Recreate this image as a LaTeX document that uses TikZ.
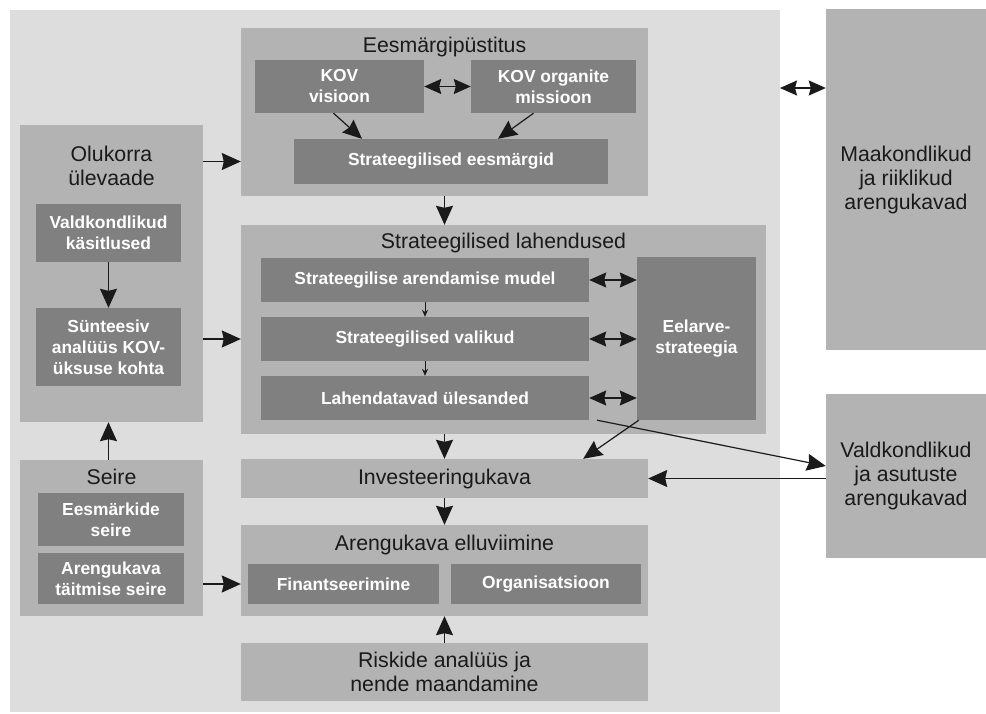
\documentclass[tikz,border=0pt]{standalone}
\usepackage{fontspec}
\setmainfont{Liberation Sans}
\usetikzlibrary{arrows.meta,positioning}

\definecolor{bglight}{HTML}{DDDDDD}
\definecolor{boxmid}{HTML}{B3B3B3}
\definecolor{boxdark}{HTML}{808080}
\definecolor{ink}{HTML}{1A1A1A}

\tikzset{
  grpbox/.style={fill=boxmid, inner sep=0pt},
  inbox/.style={fill=boxdark, inner sep=0pt, text=white, align=center,
    font=\fontsize{17.4}{21}\selectfont\bfseries},
  ttl/.style={text=ink, inner sep=0pt, align=center,
    font=\fontsize{21.3}{24}\selectfont},
  arr/.style={draw=ink, line width=1.2pt, -{Stealth[length=19pt,width=17pt,inset=2pt]}},
  darr/.style={draw=ink, line width=1.2pt,
    {Stealth[length=17pt,width=15pt,inset=2pt]}-{Stealth[length=17pt,width=15pt,inset=2pt]}},
  smallarr/.style={draw=ink, line width=1pt, -{Stealth[length=7pt,width=6pt]}},
}

\begin{document}
\begin{tikzpicture}[x=1pt,y=-1pt]
  \useasboundingbox (0,0) rectangle (986,713);
  \fill[bglight] (10,10) rectangle (780,712);

  % eesmargipustitus
  \node[grpbox, minimum width=407pt, minimum height=168pt] (eesm) at (444.5,112) {};
  \node[ttl] (eesm-t) at (444.5,47) {Eesmärgipüstitus};
  \node[inbox, minimum width=169pt, minimum height=53pt] (visioon) at (339.5,86.5) {KOV\\visioon};
  \node[inbox, minimum width=165pt, minimum height=53pt] (missioon) at (553.5,86.5) {KOV organite\\missioon};
  \node[inbox, minimum width=314pt, minimum height=45pt] (eesmargid) at (451,161.5) {Strateegilised eesmärgid};

  % strateegilised lahendused
  \node[grpbox, minimum width=525pt, minimum height=209pt] (lahend) at (503.5,329.5) {};
  \node[ttl] (lahend-t) at (503.5,243) {Strateegilised lahendused};
  \node[inbox, minimum width=328pt, minimum height=44pt] (mudel) at (425,280) {Strateegilise arendamise mudel};
  \node[inbox, minimum width=328pt, minimum height=44pt] (valikud) at (425,339) {Strateegilised valikud};
  \node[inbox, minimum width=328pt, minimum height=44pt] (ylesanded) at (425,398) {Lahendatavad ülesanded};
  \node[inbox, minimum width=119pt, minimum height=163pt] (eelarve) at (696.5,338.5) {Eelarve-\\strateegia};

  % olukorra ulevaade
  \node[grpbox, minimum width=183pt, minimum height=297pt] (olukord) at (111.5,273.5) {};
  \node[ttl] (olukord-t) at (111.5,166) {Olukorra\\ülevaade};
  \node[inbox, minimum width=145pt, minimum height=58pt] (kasitlused) at (108.5,233) {Valdkondlikud\\käsitlused};
  \node[inbox, minimum width=145pt, minimum height=78pt] (analyys) at (108.5,347) {Sünteesiv\\analüüs KOV-\\üksuse kohta};

  % seire
  \node[grpbox, minimum width=183pt, minimum height=156pt] (seire) at (111.5,538) {};
  \node[ttl] (seire-t) at (111.5,477) {Seire};
  \node[inbox, minimum width=146pt, minimum height=53pt] (eseire) at (111,519.5) {Eesmärkide\\seire};
  \node[inbox, minimum width=146pt, minimum height=51pt] (tseire) at (111,578.5) {Arengukava\\täitmise seire};

  % investeeringud, elluviimine, riskid
  \node[grpbox, ttl, minimum width=407pt, minimum height=39pt] (invest) at (444.5,478.5) {Investeeringukava};
  \node[grpbox, minimum width=407pt, minimum height=91pt] (ellu) at (444.5,570.5) {};
  \node[ttl] (ellu-t) at (444.5,545) {Arengukava elluviimine};
  \node[inbox, minimum width=191pt, minimum height=40pt] (finants) at (343.5,584) {Finantseerimine};
  \node[inbox, minimum width=190pt, minimum height=40pt] (org) at (546,584) {Organisatsioon};
  \node[grpbox, ttl, minimum width=407pt, minimum height=58pt] (riskid) at (444.5,672) {Riskide analüüs ja\\nende maandamine};

  % valised arengukavad
  \node[grpbox, ttl, minimum width=160pt, minimum height=341pt] (maak) at (906,179.5) {Maakondlikud\\ja riiklikud\\arengukavad};
  \node[grpbox, ttl, minimum width=160pt, minimum height=164pt] (valdasut) at (906,476) {Valdkondlikud\\ja asutuste\\arengukavad};
  \coordinate (bgedge) at (780,88);

  % seosed
  \draw[darr] (visioon.east) -- (missioon.west);
  \draw[arr] ([xshift=-6pt]visioon.south) -- ([xshift=-89pt]eesmargid.north);
  \draw[arr] ([xshift=-20pt]missioon.south) -- ([xshift=47pt]eesmargid.north);
  \draw[arr] (eesm.south) -- (eesm.south |- lahend.north);
  \draw[arr] (olukord.east |- eesmargid) -- (eesm.west |- eesmargid);
  \draw[arr] (olukord.east |- valikud) -- (lahend.west |- valikud);
  \draw[arr] (kasitlused) -- (analyys);
  \draw[arr] (seire.north -| kasitlused) -- (olukord.south -| kasitlused);
  \draw[arr] (seire.east |- finants) -- (ellu.west |- finants);
  \draw[smallarr] (mudel) -- (valikud);
  \draw[smallarr] (valikud) -- (ylesanded);
  \draw[darr] (mudel.east) -- (eelarve.west |- mudel);
  \draw[darr] (valikud.east) -- (eelarve.west |- valikud);
  \draw[darr] (ylesanded.east) -- (eelarve.west |- ylesanded);
  \draw[arr] (invest.north |- lahend.south) -- (invest.north);
  \draw[arr] ([xshift=2pt]eelarve.south west) -- ([xshift=-65pt]invest.north east);
  \draw[arr] ([xshift=8pt]ylesanded.south east) -- ([yshift=10pt]valdasut.west);
  \draw[arr] (valdasut.west |- invest.east) -- (invest.east);
  \draw[arr] (invest.south) -- (ellu.north);
  \draw[arr] (riskid.north) -- (ellu.south);
  \draw[darr] (bgedge) -- (maak.west |- bgedge);
\end{tikzpicture}
\end{document}
